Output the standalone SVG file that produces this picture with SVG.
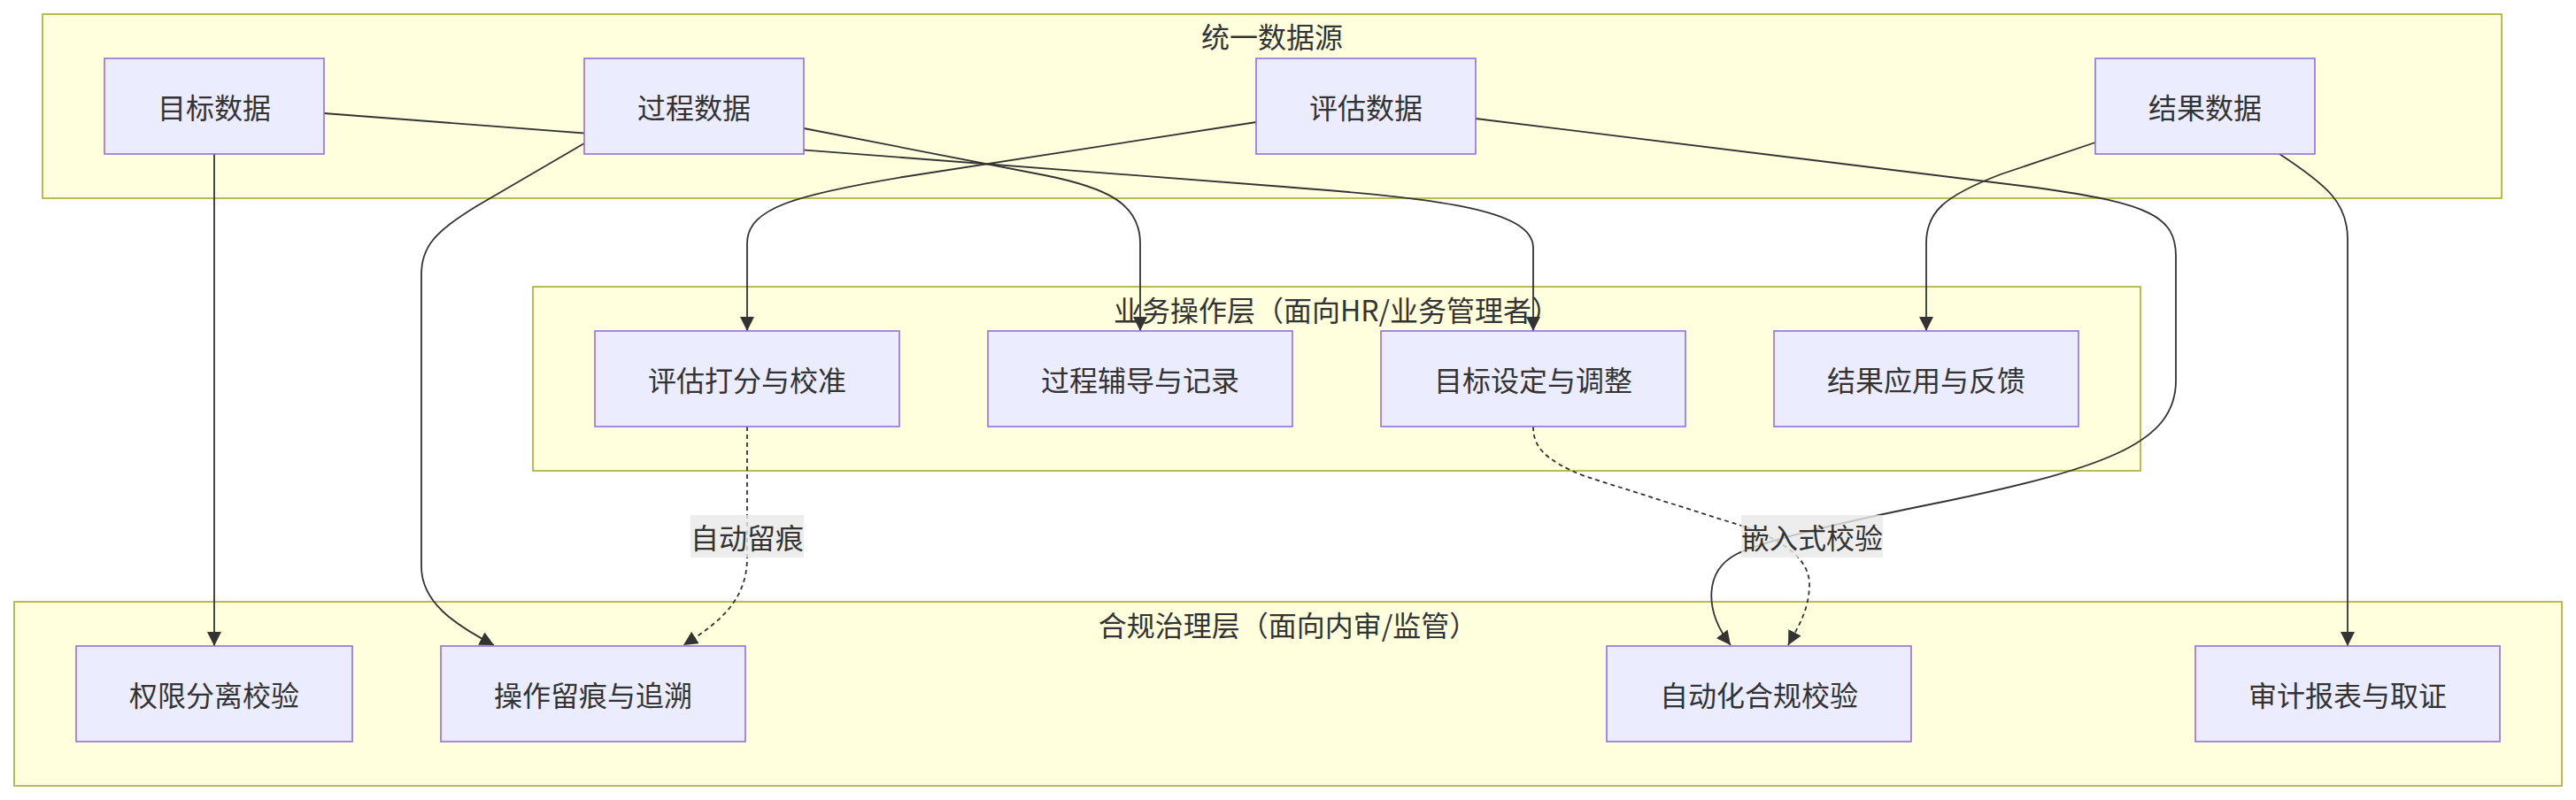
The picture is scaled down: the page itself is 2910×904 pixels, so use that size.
<svg xmlns="http://www.w3.org/2000/svg" width="2910" height="904" viewBox="0 0 2910 904">
<style>
  .cluster rect { fill: #ffffde; stroke: #aaaa33; stroke-width: 1.6; }
  .node rect { fill: #ECECFF; stroke: #9370DB; stroke-width: 1.6; }
  text { font-family: "Noto Sans CJK SC", "Liberation Sans", sans-serif; font-size: 32px; fill: #333333; text-anchor: middle; dominant-baseline: central; }
  .edge { fill: none; stroke: #333333; stroke-width: 1.8; }
  .dotted { stroke-dasharray: 5 4; }
  .elabel rect { fill: #e8e8e8; fill-opacity: 0.8; stroke: none; }
</style>
<defs>
  <marker id="arrow" markerUnits="userSpaceOnUse" markerWidth="16" markerHeight="16" refX="16" refY="8" orient="auto" viewBox="0 0 16 16">
    <path d="M0,0 L16,8 L0,16 z" fill="#333333"/>
  </marker>
</defs>
<rect width="2910" height="904" fill="#ffffff"/>

<g id="clusters">
  <g id="cluster-data" class="cluster">
    <rect x="48" y="16" width="2778" height="208"/>
    <text x="1437" y="40">统一数据源</text>
  </g>
  <g id="cluster-ops" class="cluster">
    <rect x="602" y="324" width="1816" height="208"/>
    <text x="1510" y="349">业务操作层（面向HR/业务管理者）</text>
  </g>
  <g id="cluster-compliance" class="cluster">
    <rect x="16" y="680" width="2878" height="208"/>
    <text x="1455" y="705">合规治理层（面向内审/监管）</text>
  </g>
</g>

<g id="connectors">
  <path class="edge" marker-end="url(#arrow)" d="M242,174 L242,730"/>
  <path class="edge" marker-end="url(#arrow)" d="M366,128 L1450,211 C1620,224 1732,236 1732,280 L1732,374"/>
  <path class="edge" marker-end="url(#arrow)" d="M908,145 L1180,198 C1250,212 1288,230 1288,275 L1288,374"/>
  <path class="edge" marker-end="url(#arrow)" d="M660,162 L540,232 C490,262 476,280 476,310 L476,640 C476,680 512,705 558,729"/>
  <path class="edge" marker-end="url(#arrow)" d="M1419,138 L1020,200 C900,220 844,235 844,275 L844,374"/>
  <path class="edge" marker-end="url(#arrow)" d="M1667,134 L2300,212 C2430,230 2458,245 2458,290 L2458,430 C2458,500 2380,528 2200,566 C2080,590 1990,612 1962,626 C1925,645 1925,690 1955,729"/>
  <path class="edge" marker-end="url(#arrow)" d="M2367,161 L2260,197 C2195,222 2176,240 2176,275 L2176,374"/>
  <path class="edge" marker-end="url(#arrow)" d="M2575,174 C2630,210 2652,230 2652,270 L2652,730"/>
  <path class="edge dotted" marker-end="url(#arrow)" d="M844,482 L844,630 C844,680 810,705 772,729"/>
  <path class="edge dotted" marker-end="url(#arrow)" d="M1732,482 C1732,505 1745,520 1790,538 L1967,594 C2010,608 2044,630 2044,660 C2044,690 2030,710 2020,729"/>
</g>

<g id="edge-labels">
  <g id="label-autotrace" class="elabel">
    <rect x="780" y="582" width="128" height="48"/>
    <text x="844" y="606">自动留痕</text>
  </g>
  <g id="label-embedded" class="elabel">
    <rect x="1967" y="582" width="160" height="48"/>
    <text x="2047" y="606">嵌入式校验</text>
  </g>
</g>

<g id="node-goaldata" class="node"><rect x="118" y="66" width="248" height="108"/><text x="242" y="120">目标数据</text></g>
<g id="node-processdata" class="node"><rect x="660" y="66" width="248" height="108"/><text x="784" y="120">过程数据</text></g>
<g id="node-evaldata" class="node"><rect x="1419" y="66" width="248" height="108"/><text x="1543" y="120">评估数据</text></g>
<g id="node-resultdata" class="node"><rect x="2367" y="66" width="248" height="108"/><text x="2491" y="120">结果数据</text></g>

<g id="node-evalscore" class="node"><rect x="672" y="374" width="344" height="108"/><text x="844" y="428">评估打分与校准</text></g>
<g id="node-coaching" class="node"><rect x="1116" y="374" width="344" height="108"/><text x="1288" y="428">过程辅导与记录</text></g>
<g id="node-goalset" class="node"><rect x="1560" y="374" width="344" height="108"/><text x="1732" y="428">目标设定与调整</text></g>
<g id="node-resultapply" class="node"><rect x="2004" y="374" width="344" height="108"/><text x="2176" y="428">结果应用与反馈</text></g>

<g id="node-sod" class="node"><rect x="86" y="730" width="312" height="108"/><text x="242" y="784">权限分离校验</text></g>
<g id="node-trace" class="node"><rect x="498" y="730" width="344" height="108"/><text x="670" y="784">操作留痕与追溯</text></g>
<g id="node-autocheck" class="node"><rect x="1815" y="730" width="344" height="108"/><text x="1987" y="784">自动化合规校验</text></g>
<g id="node-audit" class="node"><rect x="2480" y="730" width="344" height="108"/><text x="2652" y="784">审计报表与取证</text></g>
</svg>
